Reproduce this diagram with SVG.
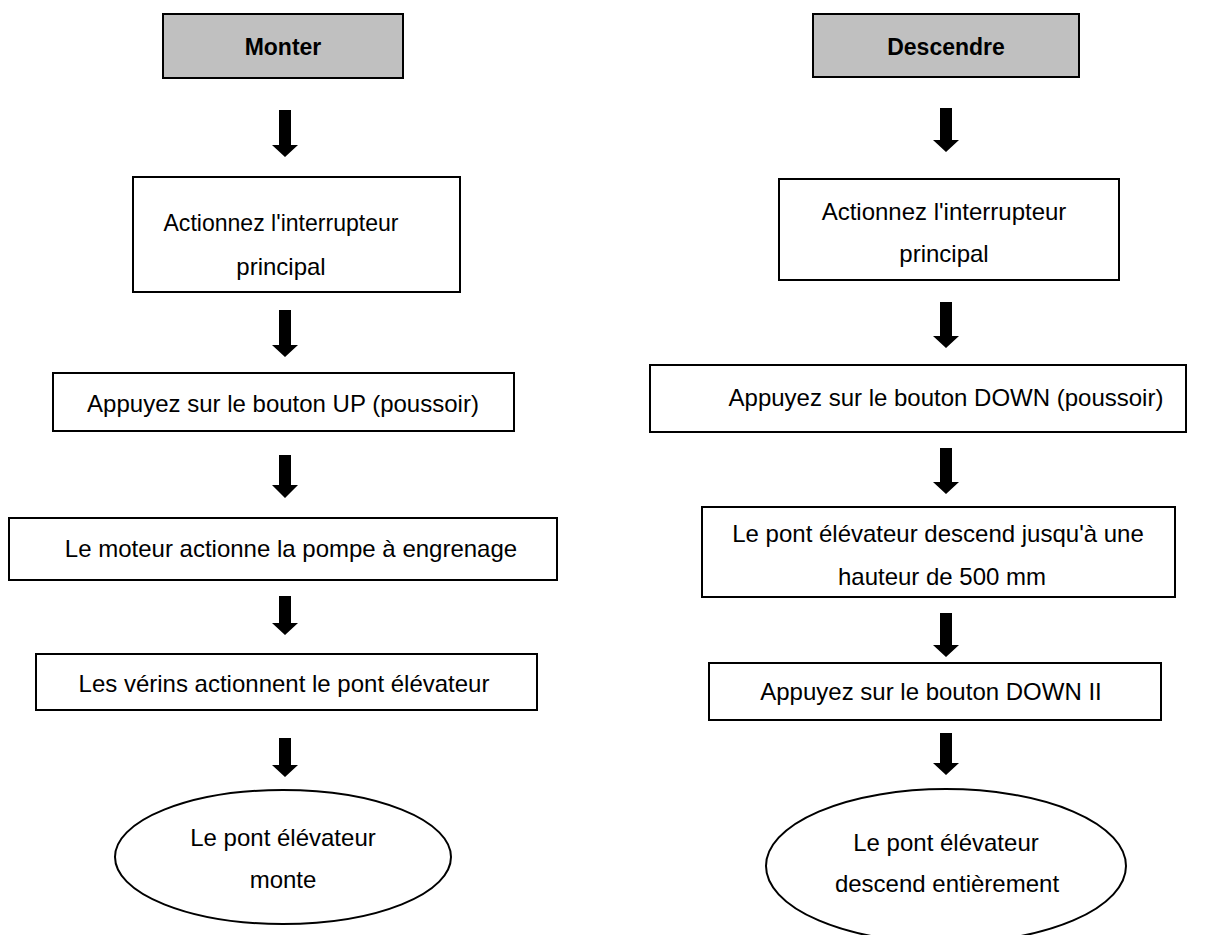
<svg xmlns="http://www.w3.org/2000/svg" width="1232" height="935" viewBox="0 0 1232 935">
<style>
.box{fill:#fff;stroke:#000;stroke-width:2}
.head{fill:#c0c0c0;stroke:#000;stroke-width:2}
.t{font-family:"Liberation Sans",Arial,sans-serif;font-size:24px;fill:#000;text-anchor:middle}
.b{font-weight:bold;font-size:23px}
.arr{fill:#000;stroke:none}
</style>
<rect width="1232" height="935" fill="#fff"/>
<g id="connectors">
<path class="arr" d="M279,110 H291 V145 H298 L285,157 L272,145 H279 Z"/>
<path class="arr" d="M279,310 H291 V345 H298 L285,357 L272,345 H279 Z"/>
<path class="arr" d="M279,455 H291 V485 H298 L285,498 L272,485 H279 Z"/>
<path class="arr" d="M279,596 H291 V623 H298 L285,635 L272,623 H279 Z"/>
<path class="arr" d="M279,738 H291 V765 H298 L285,777 L272,765 H279 Z"/>
<path class="arr" d="M940,108 H952 V140 H959 L946,152 L933,140 H940 Z"/>
<path class="arr" d="M940,302 H952 V336 H959 L946,348 L933,336 H940 Z"/>
<path class="arr" d="M940,448 H952 V482 H959 L946,494 L933,482 H940 Z"/>
<path class="arr" d="M940,613 H952 V645 H959 L946,657 L933,645 H940 Z"/>
<path class="arr" d="M940,733 H952 V763 H959 L946,775 L933,763 H940 Z"/>
</g>
<g id="monter">
<rect class="head" x="163" y="14" width="240" height="64"/>
<text class="t b" x="283" y="55">Monter</text>
</g>
<g id="l2">
<rect class="box" x="133" y="177" width="327" height="115"/>
<text class="t" x="281" y="231" textLength="235" lengthAdjust="spacingAndGlyphs">Actionnez l'interrupteur</text>
<text class="t" x="281" y="275">principal</text>
</g>
<g id="l3">
<rect class="box" x="53" y="373" width="461" height="58"/>
<text class="t" x="283" y="412">Appuyez sur le bouton UP (poussoir)</text>
</g>
<g id="l4">
<rect class="box" x="9" y="518" width="548" height="62"/>
<text class="t" x="291" y="557">Le moteur actionne la pompe à engrenage</text>
</g>
<g id="l5">
<rect class="box" x="36" y="654" width="501" height="56"/>
<text class="t" x="284" y="692">Les vérins actionnent le pont élévateur</text>
</g>
<g id="l6">
<ellipse class="box" cx="283" cy="857" rx="168" ry="67"/>
<text class="t" x="283" y="846">Le pont élévateur</text>
<text class="t" x="283" y="888">monte</text>
</g>
<g id="descendre">
<rect class="head" x="813" y="14" width="266" height="63"/>
<text class="t b" x="946" y="55">Descendre</text>
</g>
<g id="r2">
<rect class="box" x="779" y="179" width="340" height="101"/>
<text class="t" x="944" y="220">Actionnez l'interrupteur</text>
<text class="t" x="944" y="262">principal</text>
</g>
<g id="r3">
<rect class="box" x="650" y="365" width="536" height="67"/>
<text class="t" x="946" y="406">Appuyez sur le bouton DOWN (poussoir)</text>
</g>
<g id="r4">
<rect class="box" x="702" y="507" width="473" height="90"/>
<text class="t" x="938" y="542">Le pont élévateur descend jusqu'à une</text>
<text class="t" x="942" y="585">hauteur de 500 mm</text>
</g>
<g id="r5">
<rect class="box" x="709" y="663" width="452" height="57"/>
<text class="t" x="931" y="700">Appuyez sur le bouton DOWN II</text>
</g>
<g id="r6">
<ellipse class="box" cx="946" cy="866" rx="180" ry="77"/>
<text class="t" x="946" y="851">Le pont élévateur</text>
<text class="t" x="947" y="892">descend entièrement</text>
</g>
</svg>
